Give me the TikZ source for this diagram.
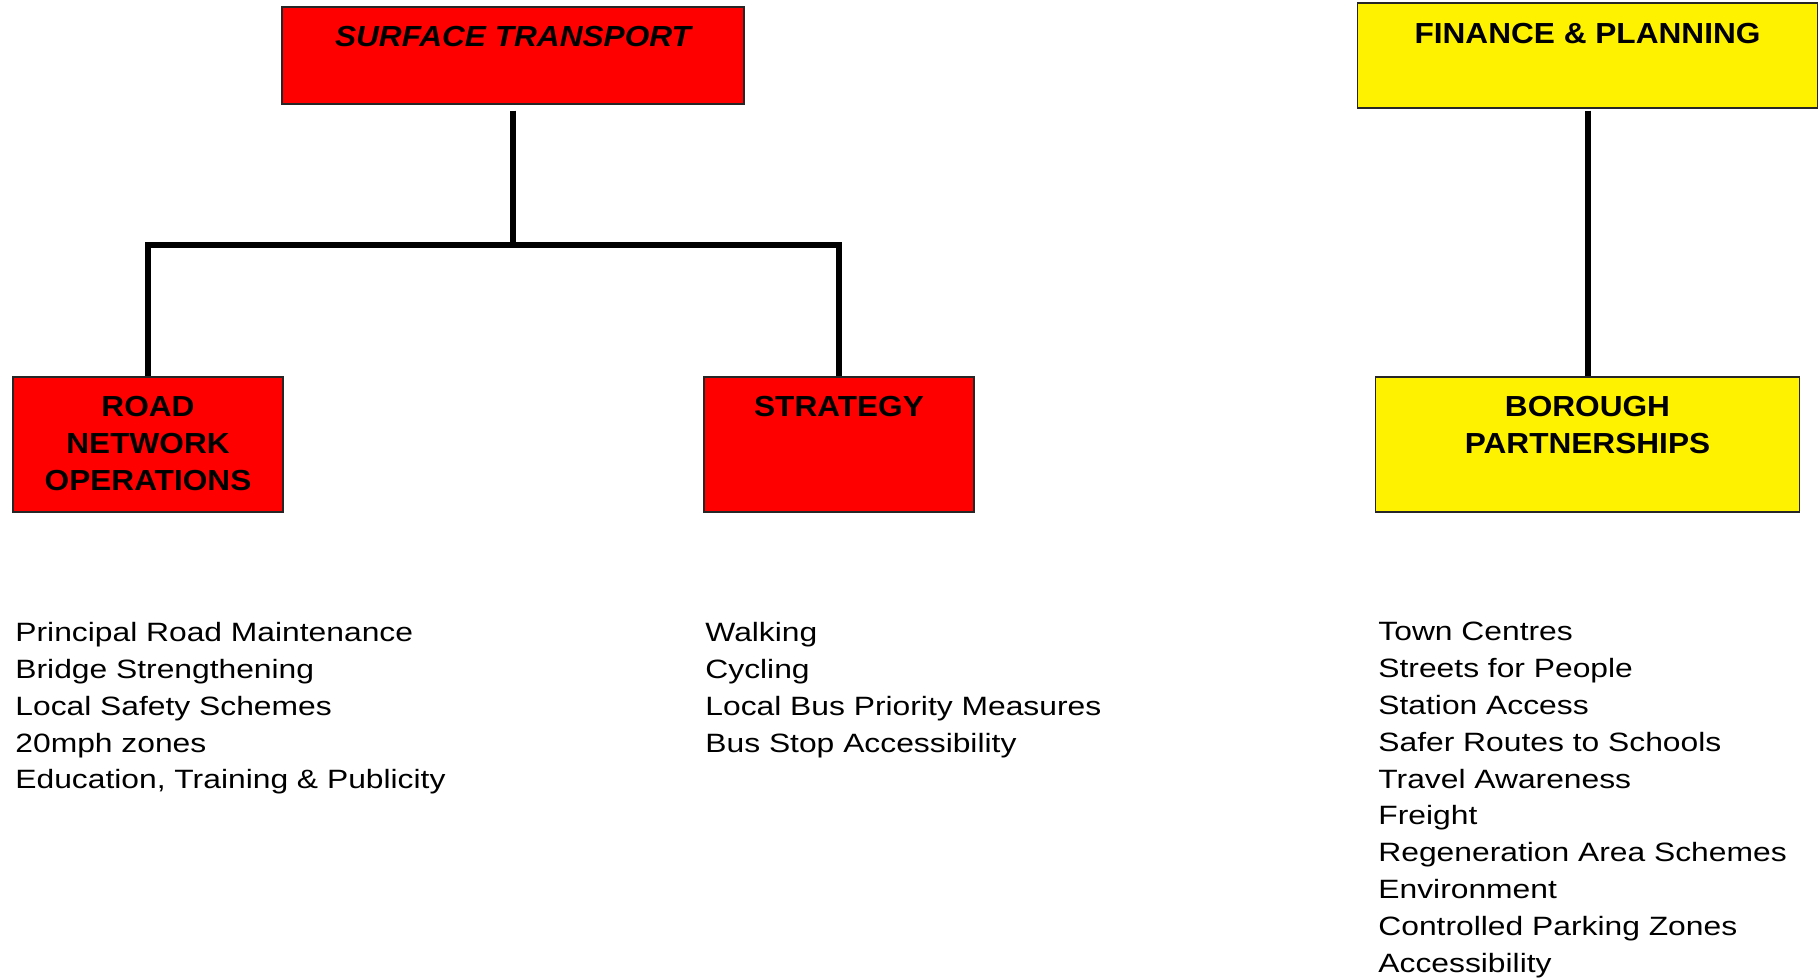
\documentclass[tikz,border=0pt]{standalone}
\usepackage{fontspec}
\newfontfamily\boxfont[FakeStretch=1.09]{Liberation Sans}
\newfontfamily\listfont[FakeStretch=1.2]{Liberation Sans}
\usepackage{tikz}

\begin{document}
\begin{tikzpicture}[x=0.5pt,y=-0.5pt,
  unit/.style={draw=black!85,line width=0.6pt,inner sep=0pt},
  title/.style={anchor=north,inner sep=0pt,align=center,font=\boxfont\bfseries\fontsize{14.5}{18.5}\selectfont},
  items/.style={anchor=north west,inner sep=0pt,align=left,font=\listfont\fontsize{13.25}{18.4}\selectfont},
  link/.style={line width=3pt}]
 \useasboundingbox (0,0) rectangle (1818,978);
 \node[unit,fill=red,minimum width=231pt,minimum height=48.5pt] (st) at (513,55.5) {};
 \node[unit,fill=yellow,minimum width=230pt,minimum height=52.5pt] (fp) at (1587.5,55.5) {};
 \node[unit,fill=red,minimum width=135pt,minimum height=67.5pt] (rno) at (148,444.5) {};
 \node[unit,fill=red,minimum width=135pt,minimum height=67.5pt] (str) at (839,444.5) {};
 \node[unit,fill=yellow,minimum width=212pt,minimum height=67.5pt] (bp) at (1587.5,444.5) {};
 \node[title,font=\boxfont\bfseries\itshape\fontsize{14.5}{18.5}\selectfont] (stT) at ([yshift=-9.5pt]st.north) {SURFACE TRANSPORT};
 \node[title] (fpT) at ([yshift=-10pt]fp.north) {FINANCE \& PLANNING};
 \node[title] (rnoT) at ([yshift=-9.5pt]rno.north) {ROAD\\NETWORK\\OPERATIONS};
 \node[title] (strT) at ([yshift=-9.5pt]str.north) {STRATEGY};
 \node[title] (bpT) at ([yshift=-9.5pt]bp.north) {BOROUGH\\PARTNERSHIPS};
 \coordinate (fork) at (513,245);
 \draw[link] ([yshift=-3pt]st.south) -- (fork);
 \draw[link] (rno.north) |- (fork) -| (str.north);
 \draw[link] ([yshift=-1pt]fp.south) -- (bp.north);
 \node[items] (rnoL) at (15,622) {Principal Road Maintenance\\Bridge Strengthening\\Local Safety Schemes\\20mph zones\\Education, Training \& Publicity};
 \node[items] (strL) at (705,622) {Walking\\Cycling\\Local Bus Priority Measures\\Bus Stop Accessibility};
 \node[items] (bpL) at (1378,622) {Town Centres\\Streets for People\\Station Access\\Safer Routes to Schools\\Travel Awareness\\Freight\\Regeneration Area Schemes\\Environment\\Controlled Parking Zones\\Accessibility};
\end{tikzpicture}
\end{document}
